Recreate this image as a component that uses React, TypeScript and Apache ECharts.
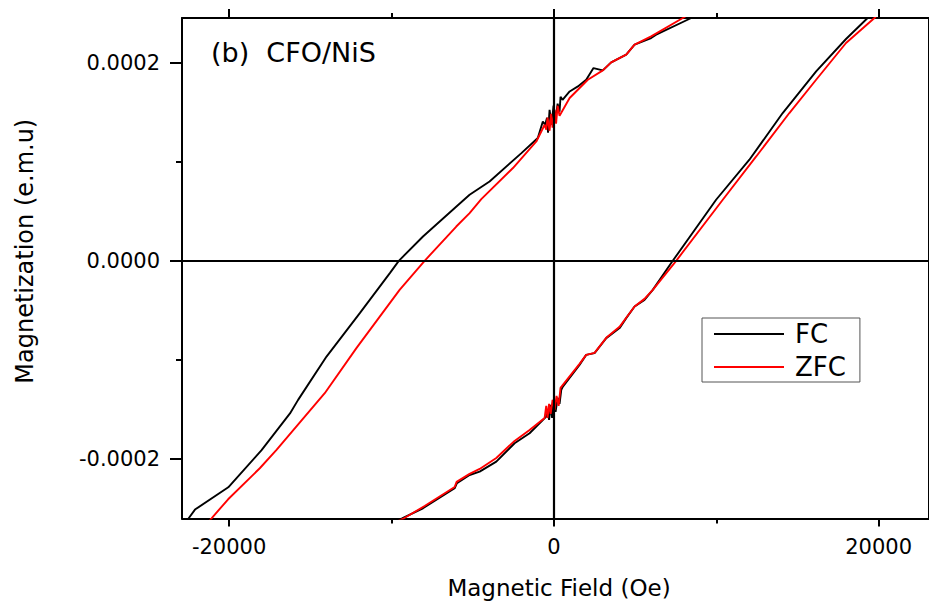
import React, { useEffect, useRef } from "react";
import * as echarts from "echarts";

const FONT = '"DejaVu Sans", "Liberation Sans", sans-serif';

// Axis extents (field in Oe, moment in emu)
const X_MIN = -22900;
const X_MAX = 23100;
const Y_MIN = -0.00026;
const Y_MAX = 0.000245;

const xMajorTicks = [-20000, 0, 20000];
const xMinorTicks = [-10000, 10000];
const yMajorTicks = [-0.0002, 0, 0.0002];
const yMinorTicks = [-0.0001, 0.0001];

const legendNames = ["FC", "ZFC"];

// Field-cooled loop: descending (upper) and ascending (lower) branches, [H (Oe), M (emu)]
const fcUpper: [number, number][] = [
  [-22800, -0.000266], [-22500, -0.00026], [-22100, -0.000251], [-20050, -0.0002285],
  [-18000, -0.000191], [-16250, -0.000154], [-15750, -0.0001403], [-14000, -0.0000966],
  [-11950, -0.0000528], [-10100, -0.0000124], [-9550, 0.0], [-8060, 0.0000245],
  [-6000, 0.0000548], [-5190, 0.0000666], [-3960, 0.0000801], [-2000, 0.0001087],
  [-990, 0.0001239], [-680, 0.0001406], [-540, 0.0001373], [-420, 0.0001444],
  [-360, 0.0001292], [-265, 0.0001524], [-140, 0.0001373], [-20, 0.0001565],
  [105, 0.0001424], [230, 0.0001585], [350, 0.0001504], [410, 0.0001656],
  [535, 0.0001625], [970, 0.0001709], [1480, 0.000176], [1990, 0.0001827],
  [2440, 0.0001945], [3015, 0.0001921], [3530, 0.0002002], [4455, 0.000208],
  [4970, 0.0002181], [5990, 0.0002248], [6300, 0.0002282], [8460, 0.000245],
  [8970, 0.0002494],
];

const fcLower: [number, number][] = [
  [-10090, -0.0002655], [-9350, -0.0002598], [-8060, -0.0002497], [-6110, -0.0002295],
  [-5970, -0.0002244], [-5190, -0.0002161], [-4570, -0.0002127], [-3545, -0.0002026],
  [-2420, -0.0001841], [-1495, -0.000174], [-470, -0.0001572], [-390, -0.0001504],
  [-295, -0.0001605], [-200, -0.0001454], [-110, -0.0001585], [-20, -0.0001403],
  [105, -0.0001524], [230, -0.0001383], [350, -0.0001444], [455, -0.0001302],
  [555, -0.0001269], [1580, -0.000105], [1990, -0.0000949], [2505, -0.0000932],
  [3225, -0.000078], [4045, -0.0000679], [4455, -0.0000578], [4970, -0.0000461],
  [5580, -0.0000394], [6090, -0.0000293], [7320, 0.0], [9990, 0.0000616],
  [12040, 0.000102], [14090, 0.0001491], [16150, 0.0001911], [17990, 0.0002238],
  [19320, 0.000245], [19610, 0.0002504],
];

// Zero-field-cooled loop
const zfcUpper: [number, number][] = [
  [-21400, -0.0002655], [-21080, -0.0002598], [-20060, -0.0002406], [-18110, -0.0002093],
  [-17080, -0.0001908], [-14110, -0.0001336], [-12160, -0.0000881], [-9500, -0.0000293],
  [-7960, 0.0], [-6010, 0.0000346], [-5190, 0.0000482], [-4470, 0.0000623],
  [-2520, 0.0000936], [-1080, 0.0001204], [-570, 0.0001373], [-470, 0.0001323],
  [-390, 0.0001444], [-265, 0.0001312], [-170, 0.0001484], [-80, 0.0001343],
  [45, 0.0001524], [135, 0.0001383], [230, 0.0001565], [350, 0.0001464],
  [970, 0.0001643], [2090, 0.0001827], [3015, 0.0001921], [3530, 0.0002002],
  [4455, 0.000208], [4970, 0.0002181], [5990, 0.0002265], [7940, 0.000245],
  [8470, 0.0002504],
];

const zfcLower: [number, number][] = [
  [-9990, -0.0002655], [-9230, -0.0002598], [-7960, -0.0002474], [-6110, -0.0002282],
  [-5990, -0.0002231], [-5190, -0.000215], [-4570, -0.00021], [-3545, -0.0001989],
  [-2420, -0.0001817], [-1495, -0.0001706], [-570, -0.0001585], [-470, -0.0001464],
  [-390, -0.0001585], [-295, -0.0001444], [-200, -0.0001545], [-80, -0.0001403],
  [45, -0.0001504], [165, -0.0001363], [290, -0.0001464], [410, -0.0001282],
  [555, -0.0001252], [1580, -0.000104], [1990, -0.0000949], [2505, -0.0000929],
  [3225, -0.0000777], [4045, -0.0000666], [4455, -0.0000575], [4970, -0.0000461],
  [5580, -0.0000384], [6090, -0.0000293], [7530, 0.0], [10400, 0.0000616],
  [12460, 0.0001053], [14500, 0.0001491], [16150, 0.0001827], [17990, 0.0002198],
  [19740, 0.000245], [20040, 0.0002504],
];

const BLACK = "#000000";
const RED = "#ff0000";

function tickAxis(
  position: string,
  ticks: number[],
  length: number,
  min: number,
  max: number,
  showLine: boolean
) {
  return {
    type: "value",
    position,
    min,
    max,
    axisLine: { show: showLine, onZero: false, lineStyle: { color: BLACK, width: 2 } },
    axisTick: {
      show: true,
      inside: false,
      length,
      customValues: ticks,
      lineStyle: { color: BLACK, width: 2 },
    },
    axisLabel: { show: false },
    splitLine: { show: false },
  };
}

export default function App() {
  const ref = useRef<HTMLDivElement>(null);

  useEffect(() => {
    if (!ref.current) return;
    const chart = echarts.init(ref.current, undefined, { renderer: "svg" });

    const lineSeries = (name: string, data: [number, number][], color: string, extra = {}) => ({
      type: "line",
      name,
      data,
      xAxisIndex: 0,
      yAxisIndex: 0,
      showSymbol: false,
      symbol: "none",
      clip: true,
      color,
      lineStyle: { color, width: 1.9 },
      emphasis: { disabled: true },
      ...extra,
    });

    chart.setOption({
      animation: false,
      backgroundColor: "#ffffff",
      title: {
        text: "(b)  CFO/NiS",
        left: 211,
        top: 39,
        padding: 0,
        textStyle: { fontFamily: FONT, fontSize: 27, fontWeight: "normal", color: BLACK },
      },
      legend: {
        data: legendNames,
        orient: "vertical",
        left: 702,
        top: 318,
        padding: [3, 14, 2, 11],
        itemWidth: 70,
        itemHeight: 14,
        itemGap: 7,
        borderColor: "#555555",
        borderWidth: 1,
        itemStyle: { opacity: 0 },
        lineStyle: { width: 2 },
        textStyle: { fontFamily: FONT, fontSize: 26, color: BLACK, padding: [0, 0, 0, 6] },
      },
      grid: { left: 182, top: 18, width: 748, height: 500.5, containLabel: false },
      xAxis: [
        {
          type: "value",
          position: "bottom",
          min: X_MIN,
          max: X_MAX,
          axisLine: { show: true, onZero: false, lineStyle: { color: BLACK, width: 2 } },
          axisTick: {
            show: true,
            inside: false,
            length: 8,
            customValues: xMajorTicks,
            lineStyle: { color: BLACK, width: 2 },
          },
          axisLabel: {
            show: true,
            customValues: xMajorTicks,
            margin: 18,
            fontFamily: FONT,
            fontSize: 21,
            color: BLACK,
            formatter: (v: number) => String(v),
          },
          splitLine: { show: false },
          name: "Magnetic Field (Oe)",
          nameLocation: "middle",
          nameGap: 58,
          nameTextStyle: { fontFamily: FONT, fontSize: 23, color: BLACK, padding: [0, 0, 0, 7] },
        },
        tickAxis("bottom", xMinorTicks, 5, X_MIN, X_MAX, false),
        tickAxis("top", xMajorTicks, 9, X_MIN, X_MAX, true),
        tickAxis("top", xMinorTicks, 5, X_MIN, X_MAX, false),
      ],
      yAxis: [
        {
          type: "value",
          position: "left",
          min: Y_MIN,
          max: Y_MAX,
          axisLine: { show: true, onZero: false, lineStyle: { color: BLACK, width: 2 } },
          axisTick: {
            show: true,
            inside: false,
            length: 12,
            customValues: yMajorTicks,
            lineStyle: { color: BLACK, width: 2 },
          },
          axisLabel: {
            show: true,
            customValues: yMajorTicks,
            margin: 22,
            fontFamily: FONT,
            fontSize: 21,
            color: BLACK,
            formatter: (v: number) => (Math.abs(v) < 1e-12 ? "0.0000" : v.toFixed(4)),
          },
          splitLine: { show: false },
          name: "Magnetization (e.m.u)",
          nameLocation: "middle",
          nameGap: 145,
          nameRotate: 90,
          nameTextStyle: { fontFamily: FONT, fontSize: 24, color: BLACK, padding: [0, 0, 0, 34] },
        },
        tickAxis("left", yMinorTicks, 6, Y_MIN, Y_MAX, false),
        tickAxis("right", [], 0, Y_MIN, Y_MAX, true),
      ],
      series: [
        lineSeries("FC", fcUpper, BLACK, {
          markLine: {
            silent: true,
            symbol: ["none", "none"],
            label: { show: false },
            emphasis: { disabled: true },
            lineStyle: { color: BLACK, width: 2.2, type: "solid" },
            data: [{ xAxis: 0 }, { yAxis: 0 }],
          },
        }),
        lineSeries("FC", fcLower, BLACK),
        lineSeries("ZFC", zfcUpper, RED),
        lineSeries("ZFC", zfcLower, RED),
      ],
    });

    return () => chart.dispose();
  }, []);

  return (
    <div
      ref={ref}
      style={{ position: "fixed", left: 0, top: 0, width: 929, height: 605, background: "#fff" }}
    />
  );
}
